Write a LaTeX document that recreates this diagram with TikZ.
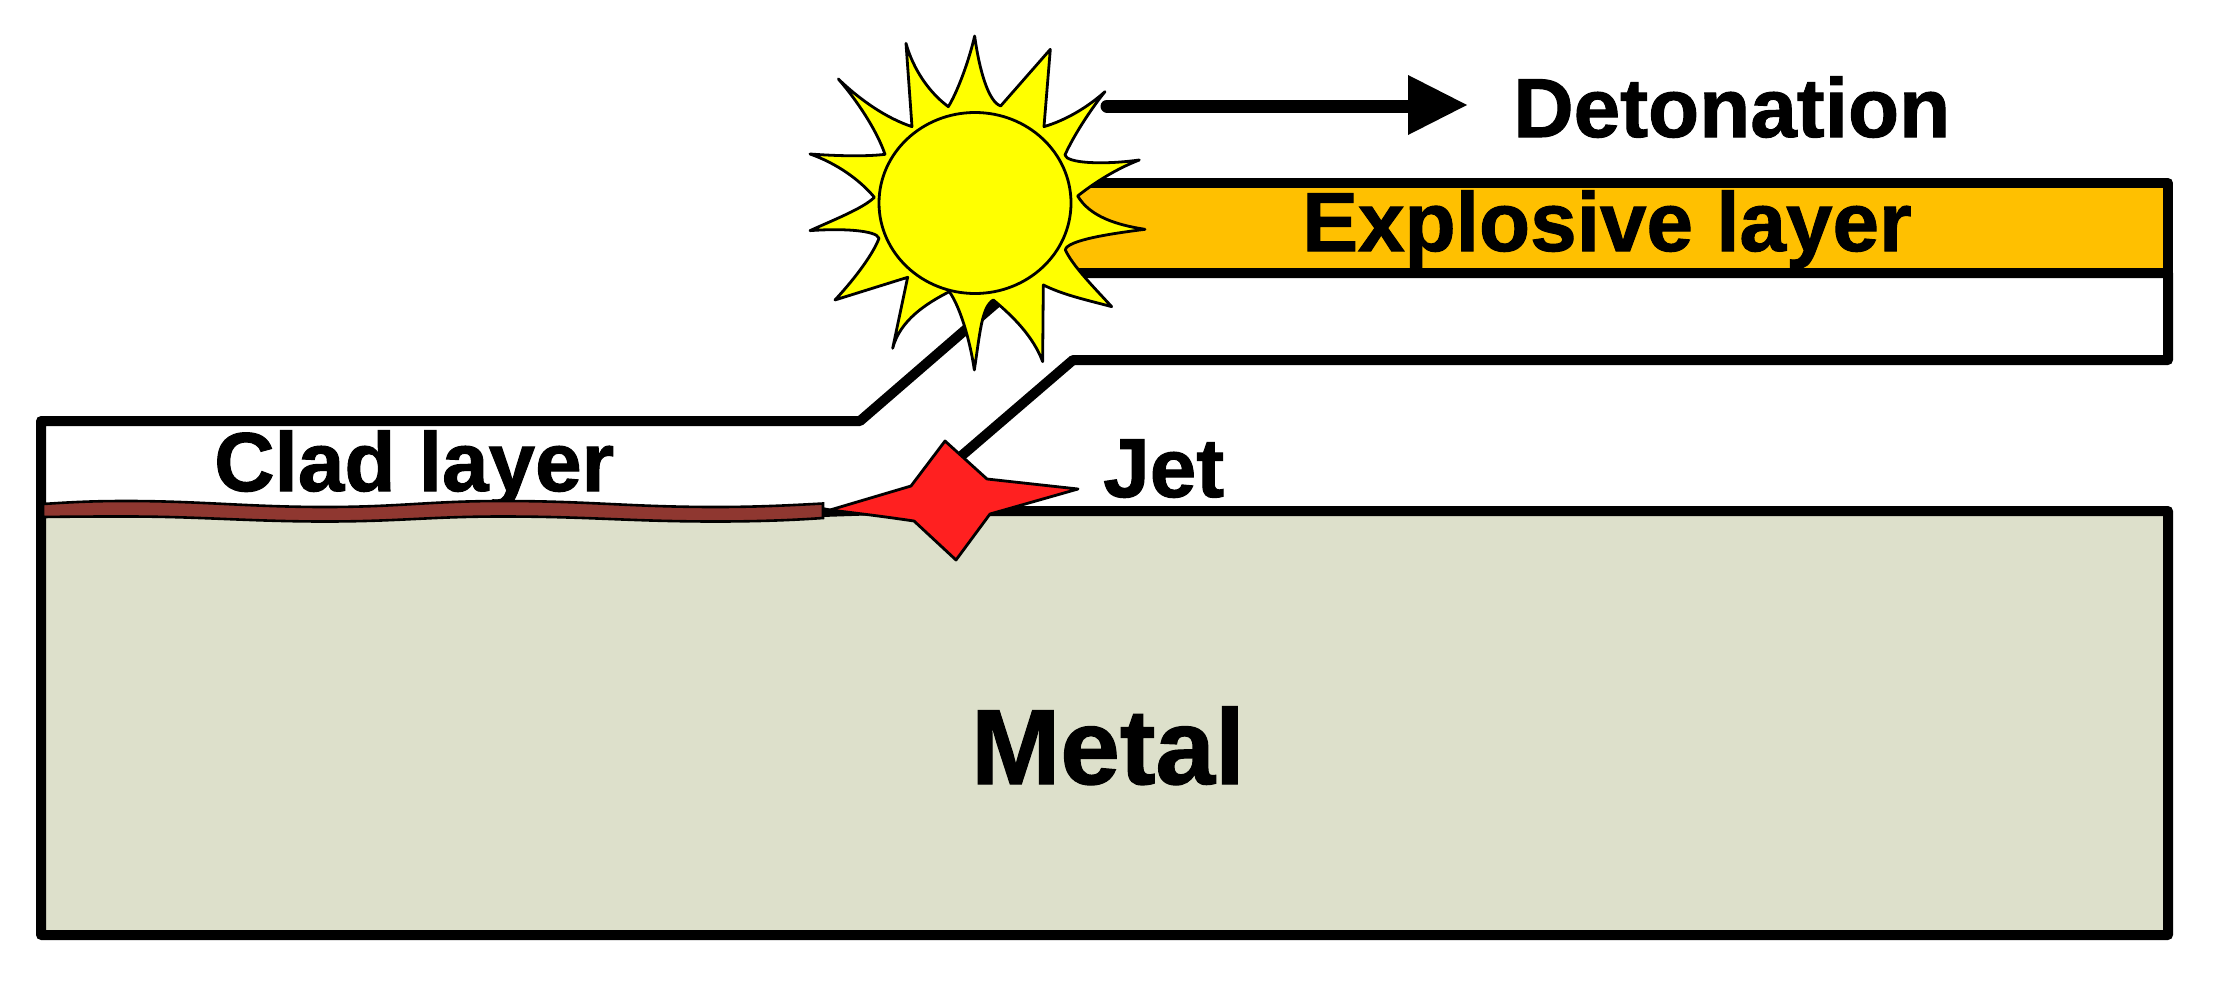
\documentclass[tikz,border=0pt]{standalone}
\usepackage{fontspec}
\usetikzlibrary{shapes.geometric}
\setmainfont[BoldFeatures={FakeBold=1.2}]{Liberation Sans}
\definecolor{metalc}{RGB}{221,224,203}
\definecolor{expc}{RGB}{255,192,0}
\definecolor{cladc}{RGB}{143,55,48}
\definecolor{jetc}{RGB}{255,32,32}
\definecolor{sunc}{RGB}{255,255,0}
\tikzset{
  heavy/.style={draw=black,line width=10pt,line join=round},
  lab/.style={anchor=base west,inner sep=0pt,font=\bfseries\fontsize{83.7}{90}\selectfont},
  thin outline/.style={draw=black,line width=2.8pt,line join=round}
}
\begin{document}
\begin{tikzpicture}[x=1pt,y=-1pt]
\useasboundingbox (0,0) rectangle (2215,982);
% metal block
\path[fill=metalc] (41,511) rectangle (2168,935);
% metal and clad outline
\draw[heavy] (990,511) -- (2168,511) -- (2168,935) -- (41,935) -- (41,421) -- (860,421) -- (1031,273) -- (2168,273) -- (2168,360) -- (1073,360) -- (945,470);
% explosive layer
\draw[heavy,fill=expc] (1040,183) rectangle (2168,273);
% labels
\node[lab] (explosive) at (1302,251) {Explosive layer};
\node[lab] (detonation) at (1513,137) {Detonation};
\node[lab] (clad) at (214,491) {Clad layer};
\node[lab] (jet) at (1103,497) {Jet};
\node[lab,font=\bfseries\fontsize{107}{110}\selectfont] (metal) at (971,784) {Metal};
% wavy clad strip
\path[fill=black] (822,507) -- (838,510) -- (866,515.5) -- (822,517) -- cycle;
\draw[draw=black,line width=2.6pt,fill=cladc,line join=miter]
  (43,504) .. controls (80,501.5) and (100,501) .. (127,501)
  .. controls (200,501) and (250,507) .. (325,507)
  .. controls (400,507) and (430,501) .. (502,501)
  .. controls (590,501) and (630,507) .. (716,507)
  .. controls (760,507) and (795,505) .. (823,503.5)
  -- (823,518)
  .. controls (795,520) and (760,521.5) .. (716,521.5)
  .. controls (630,521.5) and (590,516.5) .. (502,516.5)
  .. controls (430,516.5) and (400,521.5) .. (325,521.5)
  .. controls (250,521.5) and (200,516.5) .. (127,516.5)
  .. controls (100,516.5) and (80,516.5) .. (43,517) -- cycle;
% jet
\draw[thin outline,fill=jetc] (830,510) -- (911,486) -- (945,441) -- (987,479) -- (1078,489)
  -- (990,514) -- (956,560) -- (914,521) .. controls (880,516) and (855,513) .. (830,510) -- cycle;
% sun
\begin{scope}[shift={(780,20)},x=0.3333pt,y=-0.3333pt]
\draw[thin outline,fill=sunc] (584,48)
  .. controls (598,150) and (625,245) .. (662,258)
  -- (811,88) -- (792,320)
  .. controls (860,300) and (925,260) .. (975,215)
  .. controls (915,290) and (870,370) .. (855,405)
  .. controls (860,430) and (970,435) .. (1078,420)
  .. controls (1000,450) and (935,495) .. (893,528)
  .. controls (930,590) and (1010,615) .. (1095,628)
  .. controls (1000,640) and (860,660) .. (856,690)
  .. controls (880,740) and (940,800) .. (995,860)
  .. controls (920,840) and (850,825) .. (790,795)
  -- (788,1025)
  .. controls (760,950) and (700,890) .. (640,840)
  .. controls (605,860) and (600,940) .. (583,1050)
  .. controls (570,960) and (540,860) .. (508,815)
  .. controls (440,850) and (360,900) .. (338,985)
  -- (383,772) -- (165,840)
  .. controls (230,770) and (280,700) .. (297,655)
  .. controls (290,630) and (180,625) .. (90,632)
  .. controls (160,600) and (250,565) .. (283,532)
  .. controls (240,480) and (170,430) .. (90,402)
  .. controls (170,408) and (260,410) .. (315,403)
  .. controls (290,330) and (230,240) .. (175,177)
  .. controls (240,240) and (320,295) .. (396,320)
  -- (378,70)
  .. controls (400,150) and (450,220) .. (505,260)
  .. controls (530,220) and (565,130) .. (584,48) -- cycle;
\end{scope}
\node[ellipse,draw=black,line width=2.8pt,fill=sunc,minimum width=192pt,minimum height=181pt,inner sep=0pt] (sun) at (975,203) {};
% detonation arrow
\coordinate (arrowstart) at (1107,106);
\coordinate (arrowneck) at (1409,106);
\coordinate (arrowtip) at (1467,105);
\draw[line width=13pt,line cap=round] (arrowstart) -- (arrowneck);
\fill[black] (1408,75) -- (arrowtip) -- (1408,135) -- cycle;
\end{tikzpicture}
\end{document}
